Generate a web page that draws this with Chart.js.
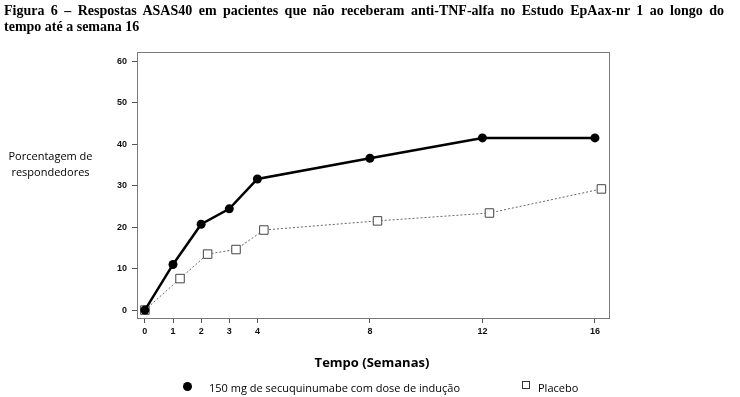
<!DOCTYPE html>
<html lang="pt">
<head>
  <meta charset="UTF-8" />
  <title>Figura 6 – Respostas ASAS40</title>
  <script src="https://cdn.jsdelivr.net/npm/chart.js"></script>
  <style>
    body {
      margin: 0;
      width: 740px;
      height: 397px;
      background: #fff;
      position: relative;
      overflow: hidden;
      font-family: 'Open Sans', sans-serif;
      color: #000;
    }

    #chart-box {
      position: absolute;
      left: 0;
      top: 0;
      width: 740px;
      height: 397px;
    }

    #title {
      position: absolute;
      left: 4px;
      top: 3px;
      width: 720px;
      font-family: 'Liberation Serif', serif;
      font-weight: bold;
      font-size: 14px;
      line-height: 16px;
    }

    #title .l1 {
      text-align: justify;
      text-align-last: justify;
    }

    #ylabel {
      position: absolute;
      left: 0;
      top: 148px;
      width: 101px;
      text-align: center;
      font-size: 11px;
      line-height: 16px;
    }

    #xlabel {
      position: absolute;
      left: 272px;
      top: 353px;
      width: 200px;
      text-align: center;
      font-size: 13px;
      font-weight: bold;
    }

    .legend-item {
      position: absolute;
      top: 380px;
      font-size: 11px;
      line-height: 15px;
    }

    .dot {
      position: absolute;
      width: 9px;
      height: 9px;
      border-radius: 50%;
      background: #000;
    }

    .sq {
      position: absolute;
      width: 6px;
      height: 6px;
      border: 1px solid #333;
      background: #fff;
    }
  </style>
</head>
<body>
  <div id="chart-box">
    <canvas id="myChart" width="740" height="397"></canvas>
  </div>

  <div id="title">
    <div class="l1">Figura 6 – Respostas ASAS40 em pacientes que não receberam anti-TNF-alfa no Estudo EpAax-nr 1 ao longo do</div>
    <div>tempo até a semana 16</div>
  </div>

  <div id="ylabel">Porcentagem de<br>respondedores</div>
  <div id="xlabel">Tempo (Semanas)</div>

  <div class="dot" style="left:183px; top:382px;"></div>
  <div class="legend-item" style="left:209px;">150 mg de secuquinumabe com dose de indução</div>
  <div class="sq" style="left:522px; top:381px;"></div>
  <div class="legend-item" style="left:538px;">Placebo</div>

  <script>
    const secukWeeks = [0, 1, 2, 3, 4, 8, 12, 16];
    const secukValues = [0, 11.0, 20.7, 24.4, 31.6, 36.6, 41.5, 41.5];
    // placebo points are drawn slightly shifted to the right in the original figure
    const placeboWeeks = [0, 1.25, 2.23, 3.24, 4.23, 8.27, 12.25, 16.23];
    const placeboValues = [0, 7.6, 13.5, 14.6, 19.3, 21.5, 23.4, 29.2];
    const xTicks = [0, 1, 2, 3, 4, 8, 12, 16];
    const yTicks = [0, 10, 20, 30, 40, 50, 60];

    const toPoints = (xs, ys) => xs.map((x, i) => ({ x: x, y: ys[i] }));

    const boxPlugin = {
      id: 'box',
      afterDraw(chart) {
        const a = chart.chartArea;
        const c = chart.ctx;
        c.save();
        c.strokeStyle = '#7a7a7a';
        c.lineWidth = 1;
        c.strokeRect(Math.round(a.left) + 0.5, Math.round(a.top) + 0.5,
          Math.round(a.right - a.left), Math.round(a.bottom - a.top));
        c.restore();
      }
    };

    const tickFont = { family: "'Liberation Sans', sans-serif", size: 9, weight: 'bold' };

    new Chart(document.getElementById('myChart'), {
      type: 'scatter',
      data: {
        datasets: [
          {
            label: '150 mg de secuquinumabe com dose de indução',
            data: toPoints(secukWeeks, secukValues),
            showLine: true,
            borderColor: '#000',
            borderWidth: 2.5,
            pointStyle: 'circle',
            pointRadius: 4.5,
            pointBackgroundColor: '#000',
            pointBorderColor: '#000',
            pointBorderWidth: 0
          },
          {
            label: 'Placebo',
            data: toPoints(placeboWeeks, placeboValues),
            showLine: true,
            borderColor: '#666',
            borderWidth: 1,
            borderDash: [2, 2],
            pointStyle: 'rect',
            pointRadius: 6,
            pointBackgroundColor: '#fff',
            pointBorderColor: '#444',
            pointBorderWidth: 1
          }
        ]
      },
      options: {
        responsive: false,
        animation: false,
        layout: { padding: { left: 107, right: 131, top: 52, bottom: 59 } },
        plugins: {
          legend: { display: false },
          tooltip: { enabled: false }
        },
        scales: {
          x: {
            type: 'linear',
            min: -0.28,
            max: 16.5,
            afterBuildTicks: s => { s.ticks = xTicks.map(v => ({ value: v })); },
            afterFit: s => { s.height = 20; },
            grid: { drawOnChartArea: false, drawTicks: true, tickLength: 5, color: '#555' },
            border: { display: true, color: '#7a7a7a' },
            ticks: { font: tickFont, color: '#111', padding: 3, maxRotation: 0, autoSkip: false }
          },
          y: {
            min: -1.9,
            max: 62.2,
            afterBuildTicks: s => { s.ticks = yTicks.map(v => ({ value: v })); },
            afterFit: s => { s.width = 30; },
            grid: { drawOnChartArea: false, drawTicks: true, tickLength: 5, color: '#555' },
            border: { display: true, color: '#7a7a7a' },
            ticks: { font: tickFont, color: '#111', padding: 5 }
          }
        }
      },
      plugins: [boxPlugin]
    });
  </script>
</body>
</html>
